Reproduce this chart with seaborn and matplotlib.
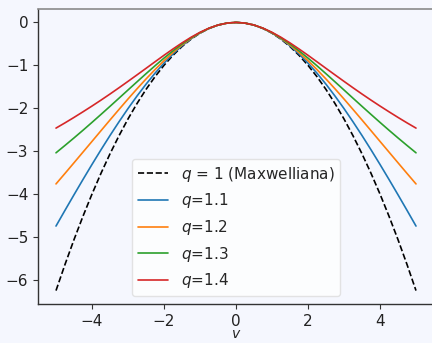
import numpy as np
import pandas as pd
import matplotlib
matplotlib.use("Agg")
import matplotlib.pyplot as plt
import seaborn as sns

# velocity grid (positive half; curves are symmetric)
v_half = [0.0, 0.25, 0.5, 0.75, 1.0, 1.25, 1.5, 1.75, 2.0, 2.25, 2.5,
          2.75, 3.0, 3.25, 3.5, 3.75, 4.0, 4.25, 4.5, 4.75, 5.0]

q10 = [0.0, -0.016, -0.0625, -0.141, -0.25, -0.391, -0.5625, -0.766, -1.0, -1.266, -1.5625,
       -1.891, -2.25, -2.641, -3.0625, -3.516, -4.0, -4.516, -5.0625, -5.641, -6.25]
q11 = [0.0, -0.016, -0.062, -0.140, -0.247, -0.382, -0.546, -0.735, -0.948, -1.184, -1.441,
       -1.716, -2.008, -2.316, -2.636, -2.968, -3.310, -3.660, -4.017, -4.379, -4.746]
q12 = [0.0, -0.016, -0.062, -0.138, -0.243, -0.373, -0.526, -0.701, -0.893, -1.100, -1.319,
       -1.548, -1.785, -2.028, -2.274, -2.523, -2.773, -3.022, -3.271, -3.519, -3.764]
q13 = [0.0, -0.016, -0.062, -0.137, -0.237, -0.361, -0.504, -0.662, -0.832, -1.011, -1.196,
       -1.385, -1.575, -1.766, -1.956, -2.144, -2.330, -2.513, -2.692, -2.867, -3.039]
q14 = [0.0, -0.016, -0.061, -0.134, -0.231, -0.347, -0.478, -0.619, -0.766, -0.918, -1.071,
       -1.223, -1.374, -1.523, -1.669, -1.811, -1.949, -2.083, -2.214, -2.341, -2.463]

labels = [r"$q$ = 1 (Maxwelliana)", r"$q$=1.1", r"$q$=1.2", r"$q$=1.3", r"$q$=1.4"]
series = [q10, q11, q12, q13, q14]
colors = ["black", "#1f77b4", "#ff7f0e", "#2ca02c", "#d62728"]
styles = ["--", "-", "-", "-", "-"]

bg = "#f5f7fe"
sns.set_style("ticks")
plt.rcParams["font.family"] = ["DejaVu Sans"]
plt.rcParams["font.size"] = 11

fig = plt.figure(figsize=(4.32, 3.43), dpi=100, facecolor=bg)
ax = fig.add_axes([38 / 432, 39 / 343, 396 / 432, 295 / 343])
ax.set_facecolor(bg)

v_full = [-x for x in v_half[::-1]] + v_half[1:]
for lab, ser, col, ls in zip(labels, series, colors, styles):
    y_full = ser[::-1] + ser[1:]
    df = pd.DataFrame({"v": v_full, "y": y_full})
    sns.lineplot(data=df, x="v", y="y", ax=ax, color=col, linestyle=ls,
                 linewidth=1.2, label=lab, sort=False)

ax.set_xlabel("$v$", fontsize=10, labelpad=-1.0)
ax.set_ylabel("")
ax.set_xticks([-4, -2, 0, 2, 4])
ax.set_yticks([0, -1, -2, -3, -4, -5, -6])
ax.tick_params(labelsize=11, length=3.5, width=0.8, color="#333333", labelcolor="#222222")
for s in ["left", "bottom"]:
    ax.spines[s].set_color("#333333")
    ax.spines[s].set_linewidth(1.0)
ax.spines["top"].set_color("#8a8a8a")
ax.spines["right"].set_color("#8a8a8a")
ax.spines["top"].set_linewidth(1.2)

leg = ax.legend(loc="lower center", fontsize=11, frameon=True,
                handlelength=2.0, borderaxespad=0.5)
leg.get_frame().set_edgecolor("#dddddd")
leg.get_frame().set_facecolor("white")
leg.get_frame().set_alpha(0.8)

fig.savefig("out.png", dpi=100, facecolor=bg)
